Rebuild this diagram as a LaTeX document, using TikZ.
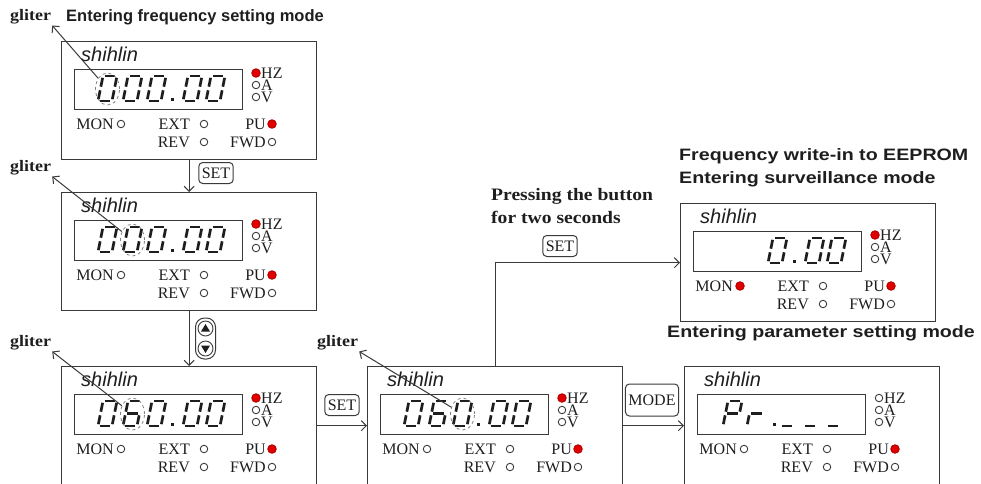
\documentclass[tikz,border=0pt]{standalone}
\usepackage{fontspec}
\setmainfont{Liberation Serif}
\setsansfont{Liberation Sans}
\newfontfamily\headfont[FakeStretch=1.19]{Liberation Sans}
\newfontfamily\notefont[FakeStretch=1.12]{Liberation Serif}
\usetikzlibrary{arrows.meta,shapes.geometric}

\definecolor{ink}{HTML}{1E1E1E}
\definecolor{frame}{HTML}{3A3A3A}
\definecolor{ledred}{HTML}{E00000}

\tikzset{
  panel/.style={draw=frame,line width=1.3pt,minimum width=255pt,minimum height=118pt,inner sep=0pt,anchor=north west},
  lcd/.style={draw=frame,line width=1pt,minimum width=168pt,minimum height=40pt,inner sep=0pt},
  seg/.style={ink,line width=2.7pt},
  led/.style={circle,draw=frame,line width=0.9pt,minimum size=7.5pt,inner sep=0pt,fill=white},
  ledon/.style={led,fill=ledred,draw=ledred!80!black,minimum size=8.5pt},
  ledtext/.style={text=ink,inner sep=0pt,font=\fontsize{16}{12}\selectfont},
  brand/.style={text=ink,inner sep=0pt,anchor=west,font=\sffamily\itshape\fontsize{20}{20}\selectfont},
  keycap/.style={draw=frame,line width=1pt,rounded corners=4pt,inner sep=3pt,minimum height=21pt,text=ink,font=\fontsize{16}{16}\selectfont},
  flow/.style={draw=frame,line width=1pt,-{Straight Barb[length=5pt,width=10pt]}},
  pointer/.style={draw=frame,line width=1pt,-{Straight Barb[length=5pt,width=10pt]}},
  glint/.style={ellipse,draw=gray,dashed,line width=0.8pt,minimum width=24pt,minimum height=32pt,inner sep=0pt},
  heading/.style={text=ink,anchor=west,align=left,inner sep=0pt,font=\sffamily\bfseries\fontsize{16.5}{23}\selectfont},
  widehead/.style={heading,font=\headfont\bfseries\fontsize{16.5}{23}\selectfont},
  note/.style={text=ink,anchor=west,align=left,inner sep=1pt,font=\notefont\bfseries\fontsize{17.5}{23}\selectfont},
  gliter/.style={note,font=\notefont\bfseries\fontsize{16}{16}\selectfont},
}

% seven segment glyphs: a, b, c, d, e, f, g
\def\dzero{1.8/0/12.2/0, 14/1.8/14/10.7, 14/14.3/14/23.2, 1.8/25/12.2/25, 0/14.3/0/23.2, 0/1.8/0/10.7}
\def\dsix{1.8/0/12.2/0, 14/14.3/14/23.2, 1.8/25/12.2/25, 0/14.3/0/23.2, 0/1.8/0/10.7, 1.8/12.5/12.2/12.5}
\def\dP{1.8/0/12.2/0, 14/1.8/14/10.7, 0/14.3/0/23.2, 0/1.8/0/10.7, 1.8/12.5/12.2/12.5}
\def\dr{0/14.3/0/23.2, 1.8/12.5/12.2/12.5}
\def\ddash{1.8/25/12.2/25}

\newcommand\lcdchar[2]{%
  \begin{scope}[shift={(#1,35)},xslant=0.2]
    \foreach \xa/\ya/\xb/\yb in #2 {\draw[seg] (\xa,\ya) -- (\xb,\yb);}
  \end{scope}}
\newcommand\lcddot[1]{\fill[ink] (#1,57.3) rectangle ++(3,3);}

\newcommand\panelbody[4]{%
  \begin{scope}[shift={(#1.north west)}]
    \node[brand] (#1-brand) at (20,13) {shihlin};
    \node[lcd] (#1-lcd) at (97,48) {};
    #4
    \node[#2] (#1-hz) at (195,32) {};
    \node[led] (#1-a) at (195,44) {};
    \node[led] (#1-v) at (195,56) {};
    \node[ledtext,anchor=west,align=left] (#1-units) at (200,44) {HZ\\A\\V};
    \node[ledtext,anchor=east] (#1-mont) at (53,83) {MON};
    \node[#3] (#1-mon) at (60,83) {};
    \node[ledtext,anchor=east] (#1-extt) at (129,83) {EXT};
    \node[led] (#1-ext) at (143,83) {};
    \node[ledtext,anchor=east] (#1-put) at (205,83) {PU};
    \node[ledon] (#1-pu) at (211,83) {};
    \node[ledtext,anchor=east] (#1-revt) at (129,101) {REV};
    \node[led] (#1-rev) at (143,101) {};
    \node[ledtext,anchor=east] (#1-fwdt) at (205,101) {FWD};
    \node[led] (#1-fwd) at (211,101) {};
  \end{scope}}

\begin{document}
\begin{tikzpicture}[x=1pt,y=-1pt]
  \useasboundingbox (0,0) rectangle (981,483);
  \clip (0,0) rectangle (981,483);

  \node[heading] (t1) at (66,17) {Entering frequency setting mode};
  \node[widehead] (t5) at (679,168) {Frequency write-in to EEPROM\\Entering surveillance mode};
  \node[widehead] (t6) at (667,333) {Entering parameter setting mode};
  \node[note] (press) at (490,206.5) {Pressing the button\\for two seconds};

  \node[panel] (p1) at (61,41) {};
  \node[panel] (p2) at (61,192) {};
  \node[panel] (p3) at (61,366) {};
  \node[panel] (p4) at (367,366) {};
  \node[panel] (p5) at (680,203) {};
  \node[panel] (p6) at (684,366) {};

  \panelbody{p1}{ledon}{led}{\lcdchar{42}{\dzero}\lcdchar{67}{\dzero}\lcdchar{91}{\dzero}\lcddot{110}\lcdchar{127}{\dzero}\lcdchar{150}{\dzero}}
  \panelbody{p2}{ledon}{led}{\lcdchar{42}{\dzero}\lcdchar{67}{\dzero}\lcdchar{91}{\dzero}\lcddot{110}\lcdchar{127}{\dzero}\lcdchar{150}{\dzero}}
  \panelbody{p3}{ledon}{led}{\lcdchar{42}{\dzero}\lcdchar{67}{\dsix}\lcdchar{91}{\dzero}\lcddot{110}\lcdchar{127}{\dzero}\lcdchar{150}{\dzero}}
  \panelbody{p4}{ledon}{led}{\lcdchar{42}{\dzero}\lcdchar{67}{\dsix}\lcdchar{91}{\dzero}\lcddot{110}\lcdchar{127}{\dzero}\lcdchar{150}{\dzero}}
  \panelbody{p5}{ledon}{ledon}{\lcdchar{93}{\dzero}\lcddot{113}\lcdchar{130}{\dzero}\lcdchar{152}{\dzero}}
  \panelbody{p6}{led}{led}{\lcdchar{44}{\dP}\lcdchar{68}{\dr}\lcddot{89}\lcdchar{101}{\ddash}\lcdchar{124}{\ddash}\lcdchar{147}{\ddash}}

  \node[glint] (g1) at ([shift={(46.5,48)}]p1.north west) {};
  \node[glint] (g2) at ([shift={(71.5,48)}]p2.north west) {};
  \node[glint] (g3) at ([shift={(71.5,48)}]p3.north west) {};
  \node[glint] (g4) at ([shift={(95.5,48)}]p4.north west) {};

  \node[gliter] (gl1) at (9,17) {gliter};
  \node[gliter] (gl2) at (9,168) {gliter};
  \node[gliter] (gl3) at (9,343) {gliter};
  \node[gliter] (gl4) at (316,343) {gliter};

  \draw[pointer] (g1) -- (gl1.south east);
  \draw[pointer] (g2) -- (gl2.south east);
  \draw[pointer] (g3) -- (gl3.south east);
  \draw[pointer] (g4) -- (gl4.south east);

  \node[keycap] (set1) at (216,173) {SET};
  \node[keycap] (set2) at (342,405) {SET};
  \node[keycap] (set3) at (560,246) {SET};
  \node[keycap,minimum height=32pt] (mode) at (652,400) {MODE};
  \node[keycap,minimum width=20pt,minimum height=41pt,rounded corners=9pt] (updown) at (205.5,338.5) {};
  \draw[frame,line width=0.9pt] ([yshift=10pt]updown.center) circle (7.5);
  \draw[frame,line width=0.9pt] ([yshift=-10pt]updown.center) circle (7.5);
  \fill[ink] ([yshift=10pt]updown.center) ++(0,-4.5) -- ++(4.5,7.5) -- ++(-9,0) -- cycle;
  \fill[ink] ([yshift=-10pt]updown.center) ++(0,4.5) -- ++(4.5,-7.5) -- ++(-9,0) -- cycle;

  \draw[flow] (p1) -- (p2);
  \draw[flow] (p2) -- (p3);
  \draw[flow] (p3) -- (p4);
  \draw[flow] (p4.east) -- (p4.east -| p6.west);
  \draw[flow] (p4.north) |- (p5.west);
\end{tikzpicture}
\end{document}
